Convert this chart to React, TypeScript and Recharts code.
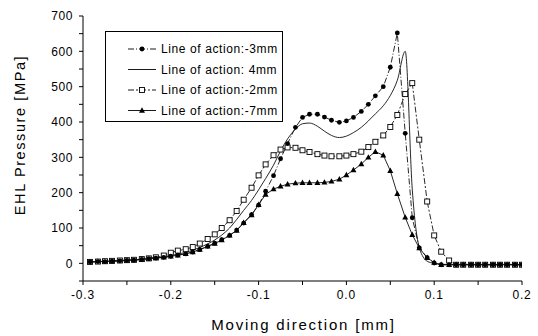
import { LineChart, Line, XAxis, YAxis, Legend } from "recharts";

const FONT = "'Liberation Sans', Arial, sans-serif";

// moving direction [mm], sample positions shared by all curves
const xs = [
  -0.292, -0.283, -0.275, -0.267, -0.258, -0.25, -0.242, -0.233, -0.225, -0.217,
  -0.208, -0.2, -0.192, -0.183, -0.175, -0.167, -0.158, -0.15, -0.142, -0.133,
  -0.125, -0.117, -0.108, -0.1, -0.092, -0.083, -0.075, -0.067, -0.058, -0.05,
  -0.042, -0.033, -0.025, -0.017, -0.008, 0.0, 0.008, 0.017, 0.025, 0.033,
  0.042, 0.05, 0.058, 0.067, 0.075, 0.083, 0.092, 0.1, 0.108, 0.117,
  0.125, 0.133, 0.142, 0.15, 0.158, 0.167, 0.175, 0.183, 0.192, 0.2,
];

// EHL pressure [MPa]
const minus3 = [
  4, 5, 5, 6, 7, 8, 9, 11, 13, 15,
  17, 20, 23, 27, 32, 39, 48, 57, 67, 79,
  94, 114, 138, 165, 204, 248, 296, 339, 385, 413,
  422, 422, 414, 405, 399, 403, 413, 430, 450, 474,
  500, 555, 652, 368, 129, 44, 16, 1, -4, -4,
  -4, -4, -4, -4, -4, -4, -4, -4, -4, -4,
];
const plus4 = [
  4, 5, 6, 7, 8, 9, 10, 12, 14, 16,
  19, 22, 26, 31, 37, 45, 55, 66, 80, 100,
  124, 150, 178, 208, 240, 278, 318, 352, 380, 395,
  397, 388, 374, 362, 356, 360, 370, 385, 403, 423,
  446, 475, 518, 600, 210, 45, 6, 0, -3, -3,
  -3, -3, -3, -3, -3, -3, -3, -3, -3, -3,
];
const minus2 = [
  4, 5, 6, 7, 8, 9, 10, 12, 14, 17,
  22, 30, 36, 40, 46, 56, 69, 82, 100, 122,
  148, 180, 214, 249, 280, 306, 322, 328, 327, 320,
  315, 309, 305, 303, 303, 305, 309, 316, 329, 344,
  362, 386, 420, 479, 510, 350, 175, 79, 33, 8,
  -4, -4, -4, -4, -4, -4, -4, -4, -4, -4,
];
const minus7 = [
  4, 5, 5, 6, 7, 8, 9, 11, 13, 15,
  17, 20, 23, 27, 32, 39, 48, 56, 66, 79,
  93, 115, 137, 166, 195, 210, 218, 224, 227, 228,
  228, 228, 229, 232, 238, 250, 264, 281, 300, 316,
  306, 262, 197, 130, 81, 43, 16, 2, -4, -4,
  -4, -4, -4, -4, -4, -4, -4, -4, -4, -4,
];

const seriesNames = ["Line of action:-3mm", "Line of action: 4mm", "Line of action:-2mm", "Line of action:-7mm"];
const xTicks = [-0.3, -0.25, -0.2, -0.15, -0.1, -0.05, 0, 0.05, 0.1, 0.15, 0.2];
const yTicks = [-50, 0, 50, 100, 150, 200, 250, 300, 350, 400, 450, 500, 550, 600, 650, 700];

const rows = xs.map((x, i) => ({ x, m3: minus3[i], p4: plus4[i], m2: minus2[i], m7: minus7[i] }));

const dashes = ["6 2 1 2", undefined, "6 2 2 2", undefined];

function Marker({ kind, cx, cy }: { kind: number; cx: number; cy: number }) {
  if (kind === 0) return <circle cx={cx} cy={cy} r={2.4} fill="#000" />;
  if (kind === 2) return <rect x={cx - 2.5} y={cy - 2.5} width={5} height={5} fill="#fff" stroke="#000" strokeWidth={0.9} />;
  if (kind === 3) return <polygon points={`${cx},${cy - 3.2} ${cx + 3},${cy + 2.2} ${cx - 3},${cy + 2.2}`} fill="#000" />;
  return null;
}

const dot = (kind: number) => (p: any) => (
  <g key={`d${kind}-${p.index}`}>
    <Marker kind={kind} cx={p.cx} cy={p.cy} />
  </g>
);

function LegendBox() {
  return (
    <div style={{ width: 178, height: 91, border: "1px solid #000", boxSizing: "border-box", background: "#fff" }}>
      <svg width={176} height={89}>
        {seriesNames.map((name, i) => {
          const y = 17 + i * 20.5;
          return (
            <g key={name}>
              <line x1={22} x2={50} y1={y} y2={y} stroke="#000" strokeWidth={0.9} strokeDasharray={dashes[i]} />
              <Marker kind={i} cx={36} cy={y} />
              <text x={55} y={y} dominantBaseline="central" fontSize={12} letterSpacing={0.6} fontFamily={FONT} fill="#000">
                {name}
              </text>
            </g>
          );
        })}
      </svg>
    </div>
  );
}

const fmtX = (v: number) => (Math.abs(v * 10 - Math.round(v * 10)) < 1e-6 ? v.toFixed(1) : "");
const fmtY = (v: number) => (v >= 0 && v % 100 === 0 ? String(v) : "");

export default function App() {
  return (
    <div style={{ position: "absolute", left: 0, top: 0, background: "#fff" }}>
      <LineChart width={538} height={336} data={rows} margin={{ top: 16, right: 16, left: 0, bottom: 0 }}>
        <XAxis
          dataKey="x"
          type="number"
          domain={[-0.3, 0.2]}
          ticks={xTicks}
          interval={0}
          allowDataOverflow
          tickFormatter={fmtX}
          tickSize={4}
          tickMargin={5}
          height={55}
          stroke="#000"
          tick={{ fill: "#000", fontSize: 12, fontFamily: FONT, letterSpacing: 0.8 }}
          label={{
            content: ({ viewBox }: any) => (
              <text x={viewBox.x + viewBox.width / 2 + 1} y={viewBox.y + 49} textAnchor="middle" fontSize={15} letterSpacing={1.8} fontFamily={FONT} fill="#000">
                Moving direction [mm]
              </text>
            ),
          }}
        />
        <YAxis
          type="number"
          domain={[-50, 700]}
          ticks={yTicks}
          interval={0}
          allowDataOverflow
          tickFormatter={fmtY}
          tickSize={4}
          tickMargin={6}
          width={83}
          stroke="#000"
          tick={{ fill: "#000", fontSize: 12, fontFamily: FONT, letterSpacing: 0.6 }}
          label={{
            content: () => (
              <text x={20} y={135} transform="rotate(-90 20 135)" textAnchor="middle" dominantBaseline="central" fontSize={14.5} letterSpacing={1.6} fontFamily={FONT} fill="#000">
                EHL Pressure [MPa]
              </text>
            ),
          }}
        />
        <Legend
          layout="horizontal"
          verticalAlign="middle"
          align="center"
          content={() => <LegendBox />}
          wrapperStyle={{ position: "absolute", left: 105, top: 31, width: 178, height: 91 }}
        />
        <Line dataKey="p4" name={seriesNames[1]} type="monotone" stroke="#111" strokeWidth={0.9} dot={false} activeDot={false} isAnimationActive={false} />
        <Line dataKey="m7" name={seriesNames[3]} type="linear" stroke="#111" strokeWidth={0.9} dot={dot(3)} activeDot={false} isAnimationActive={false} />
        <Line dataKey="m2" name={seriesNames[2]} type="linear" stroke="#111" strokeWidth={0.9} strokeDasharray={dashes[2]} dot={dot(2)} activeDot={false} isAnimationActive={false} />
        <Line dataKey="m3" name={seriesNames[0]} type="linear" stroke="#111" strokeWidth={0.9} strokeDasharray={dashes[0]} dot={dot(0)} activeDot={false} isAnimationActive={false} />
      </LineChart>
    </div>
  );
}
